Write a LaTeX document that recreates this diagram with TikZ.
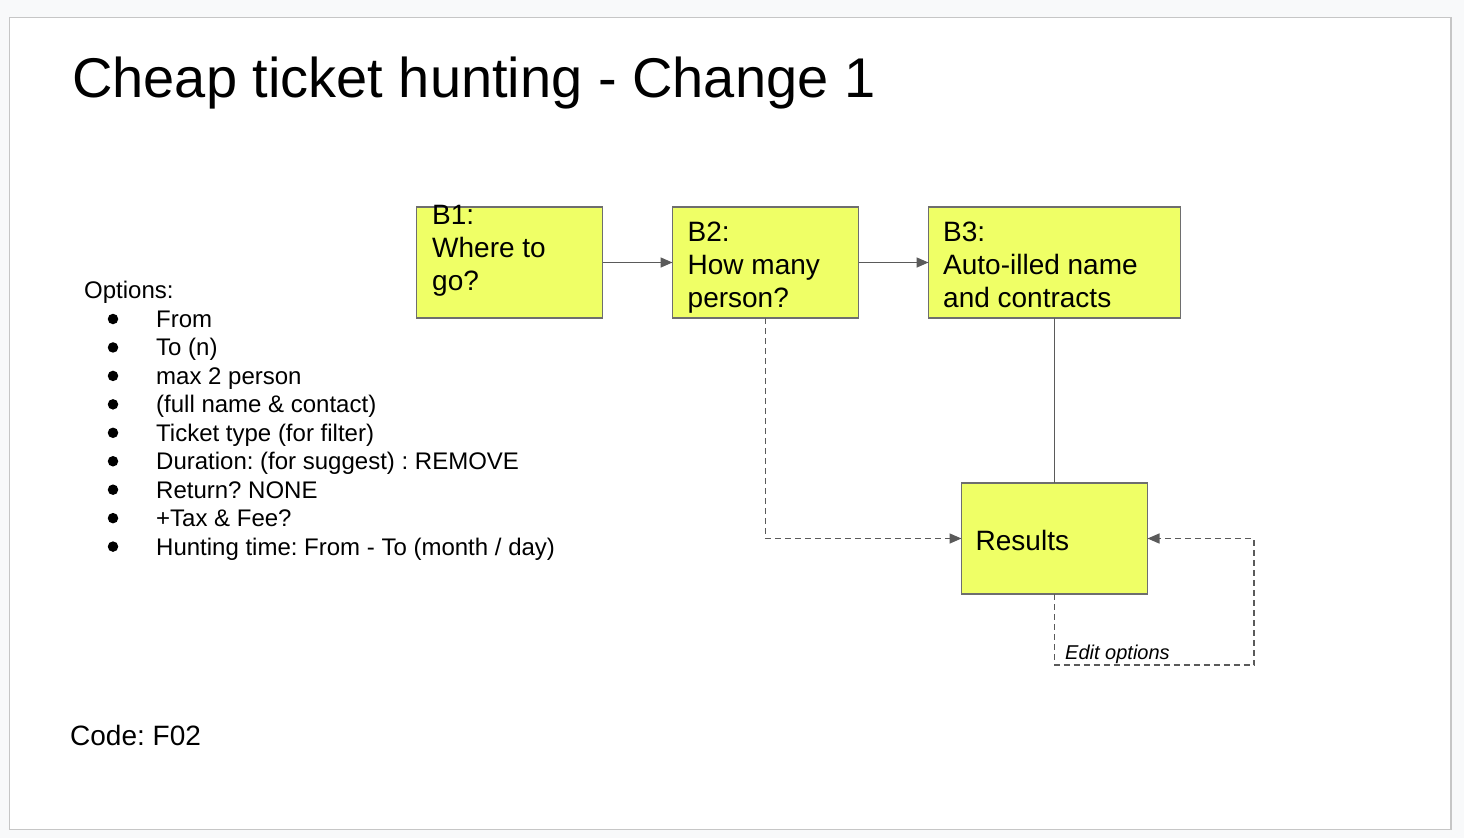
\documentclass[tikz,border=0pt]{standalone}
\usepackage{fontspec}
\setmainfont{Liberation Sans}
\usepackage{tikz}
\usetikzlibrary{arrows.meta,positioning,calc}
\frenchspacing

\definecolor{pagebg}{RGB}{248,249,250}
\definecolor{slideedge}{RGB}{198,198,198}
\definecolor{stickyfill}{RGB}{239,255,102}
\definecolor{stickyedge}{RGB}{110,110,110}
\definecolor{wire}{RGB}{90,90,90}

\tikzset{
  sticky/.style={draw=stickyedge, fill=stickyfill, line width=1.5pt, minimum width=186pt, minimum height=111pt, inner sep=0pt, outer sep=0pt},
  stickytext/.style={font=\fontsize{28}{33}\selectfont, align=left, inner sep=0pt, anchor=north west},
  optline/.style={font=\fontsize{24}{28}\selectfont, inner sep=0pt, anchor=base west},
  bulletdot/.style={circle, fill=black, minimum size=10.5pt, inner sep=0pt},
  wireline/.style={draw=wire, line width=1.5pt},
  arrowwire/.style={wireline, -{Triangle[length=12pt,width=10pt]}},
  dashwire/.style={arrowwire, dash pattern=on 6pt off 4pt},
}

\begin{document}
\begin{tikzpicture}[x=1pt, y=-1pt]
      \useasboundingbox (0,0) rectangle (1464,838);
      \fill[pagebg] (0,0) rectangle (1464,838);
      \draw[slideedge, fill=white, line width=1.5pt] (9.5,17.5) rectangle (1451,829.5);

      %% title
      \node (title) [font=\fontsize{56}{60}\selectfont, inner sep=0pt, anchor=base west] at (72,97) {Cheap ticket hunting - Change 1};

      %% flow boxes
      \node (b1) [sticky] at (509.5,262.5) {};
      \node (b2) [sticky, right=70pt of b1] {};
      \node (b3) [sticky, minimum width=252pt, right=70pt of b2] {};
      \node (res) [sticky, below=165pt of b3] {};

      \node (b1txt) [stickytext] at (432,205.5) {B1:\\Where to\\go?};
      \node (b2txt) [stickytext] at (687.5,221.5) {B2:\\How many\\person?};
      \node (b3txt) [stickytext] at (943,221.5) {B3:\\Auto-illed name\\and contracts};
      \node (restxt) [font=\fontsize{28}{33}\selectfont, inner sep=0pt, anchor=base west] at (975.5,550) {Results};

      \draw[arrowwire] (b1.east) -- (b2.west);
      \draw[arrowwire] (b2.east) -- (b3.west);
      \draw[wireline] (b3.south) -- (res.north);
      \draw[dashwire] (b2.south) |- (res.west);

      \coordinate (loop) at (1254,665);
      \draw[dashwire] (res.south) |- (loop) |- (res.east);
      \node (edit) [font=\fontsize{20}{24}\selectfont\itshape, inner sep=0pt, anchor=base west] at (1065,659) {Edit options};

      %% options list
      \node (opts) [optline] at (84,298.5) {Options:};
      \foreach \opt [count=\i] in {From, To (n), max 2 person, {(full name \& contact)}, Ticket type (for filter),
          Duration: (for suggest) : REMOVE, Return? NONE, +Tax \& Fee?, Hunting time: From - To (month / day)} {
        \node (dot\i) [bulletdot] at (113,{327.5+(\i-1)*28.45-8.5}) {};
        \node (opt\i) [optline] at (156,{327.5+(\i-1)*28.45}) {\opt};
      }

      \node (code) [font=\fontsize{28}{33}\selectfont, inner sep=0pt, anchor=base west] at (70,745) {Code: F02};

    \end{tikzpicture}
\end{document}
